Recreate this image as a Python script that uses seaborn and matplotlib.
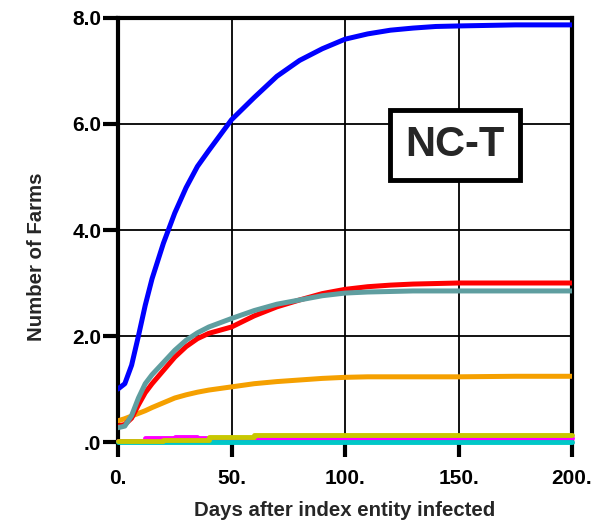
import numpy as np
import pandas as pd
import seaborn as sns
import matplotlib.pyplot as plt

# values
days = [0, 3, 6, 9, 12, 15, 20, 25, 30, 35, 40, 50, 60, 70, 80, 90, 100,
        110, 120, 130, 140, 150, 175, 200]
blue = [1.0, 1.1, 1.45, 2.0, 2.58, 3.08, 3.75, 4.32, 4.8, 5.2, 5.5, 6.08,
        6.5, 6.9, 7.2, 7.42, 7.6, 7.7, 7.77, 7.81, 7.84, 7.85, 7.87, 7.87]
red = [0.3, 0.33, 0.45, 0.7, 0.93, 1.1, 1.35, 1.6, 1.8, 1.95, 2.05, 2.17,
       2.38, 2.55, 2.68, 2.8, 2.88, 2.93, 2.96, 2.98, 2.99, 3.0, 3.0, 3.0]
teal = [0.27, 0.3, 0.5, 0.83, 1.1, 1.27, 1.5, 1.73, 1.92, 2.06, 2.17, 2.33,
        2.48, 2.6, 2.68, 2.76, 2.81, 2.83, 2.84, 2.85, 2.85, 2.85, 2.85, 2.85]
orange = [0.4, 0.44, 0.49, 0.54, 0.59, 0.65, 0.74, 0.83, 0.89, 0.94, 0.98,
          1.04, 1.1, 1.14, 1.17, 1.2, 1.22, 1.23, 1.23, 1.23, 1.23, 1.23,
          1.24, 1.24]
yellow = [0.02, 0.02, 0.02, 0.02, 0.02, 0.02, 0.045, 0.045, 0.045, 0.045,
          0.09, 0.09, 0.13, 0.13, 0.13, 0.13, 0.13, 0.13, 0.13, 0.13, 0.13,
          0.13, 0.13, 0.13]
magenta = [0.02, 0.02, 0.02, 0.02, 0.07, 0.07, 0.07, 0.1, 0.1, 0.08, 0.08,
           0.08, 0.08, 0.08, 0.08, 0.08, 0.08, 0.08, 0.08, 0.08, 0.08, 0.08,
           0.08, 0.08]
cyan = [0.005] * len(days)

xticks = [0, 50, 100, 150, 200]
xticklabels = ['0.', '50.', '100.', '150.', '200.']
yticks = [0, 2, 4, 6, 8]
yticklabels = ['.0', '2.0', '4.0', '6.0', '8.0']

sns.set_style('white')
plt.rcParams['font.family'] = ['Liberation Sans', 'DejaVu Sans']

fig = plt.figure(figsize=(5.96, 5.23), dpi=100)
ax = fig.add_axes([118 / 596, 81 / 523, 454 / 596, 424 / 523])

# flat counts near zero are step-like
for vals, col, lw in [(magenta, '#ff00ff', 3.5), (cyan, '#00c8c8', 3.5),
                      (yellow, '#c8c800', 3.5)]:
    sns.lineplot(x=days, y=vals, color=col, lw=lw, ax=ax, clip_on=False,
                 drawstyle='steps-post', zorder=3)

for vals, col in [(orange, '#f5a000'), (red, '#ff0000'),
                  (teal, '#5f9ea0'), (blue, '#0000ff')]:
    sns.lineplot(x=days, y=vals, color=col, lw=3.6, ax=ax, zorder=3)

ax.set_xlim(0, 200)
ax.set_ylim(0, 8)
ax.set_xticks(xticks)
ax.set_xticklabels(xticklabels)
ax.set_yticks(yticks)
ax.set_yticklabels(yticklabels)
ax.grid(True, color='black', lw=1.3)
ax.set_axisbelow(True)
for s in ax.spines.values():
    s.set_linewidth(3)
    s.set_color('black')
ax.tick_params(bottom=True, left=True, direction='out', length=10.5,
               width=3, colors='black', labelsize=15)
ax.tick_params(axis='x', pad=9)
ax.tick_params(axis='y', pad=1.5)
for lab in ax.get_xticklabels() + ax.get_yticklabels():
    lab.set_fontweight('bold')

ax.set_xlabel('Days after index entity infected', fontsize=14.7,
              fontweight='bold')
ax.set_ylabel('Number of Farms', fontsize=14.7, fontweight='bold')
ax.xaxis.set_label_coords(0.5, -0.138)
ax.yaxis.set_label_coords(-0.158, 0.436)

ax.text(148.5, 5.6, 'NC-T', fontsize=30, fontweight='bold', ha='center',
        va='center', zorder=5,
        bbox=dict(boxstyle='square,pad=0.36', fc='white', ec='black', lw=3.5))

plt.savefig('out.png', dpi=100)
